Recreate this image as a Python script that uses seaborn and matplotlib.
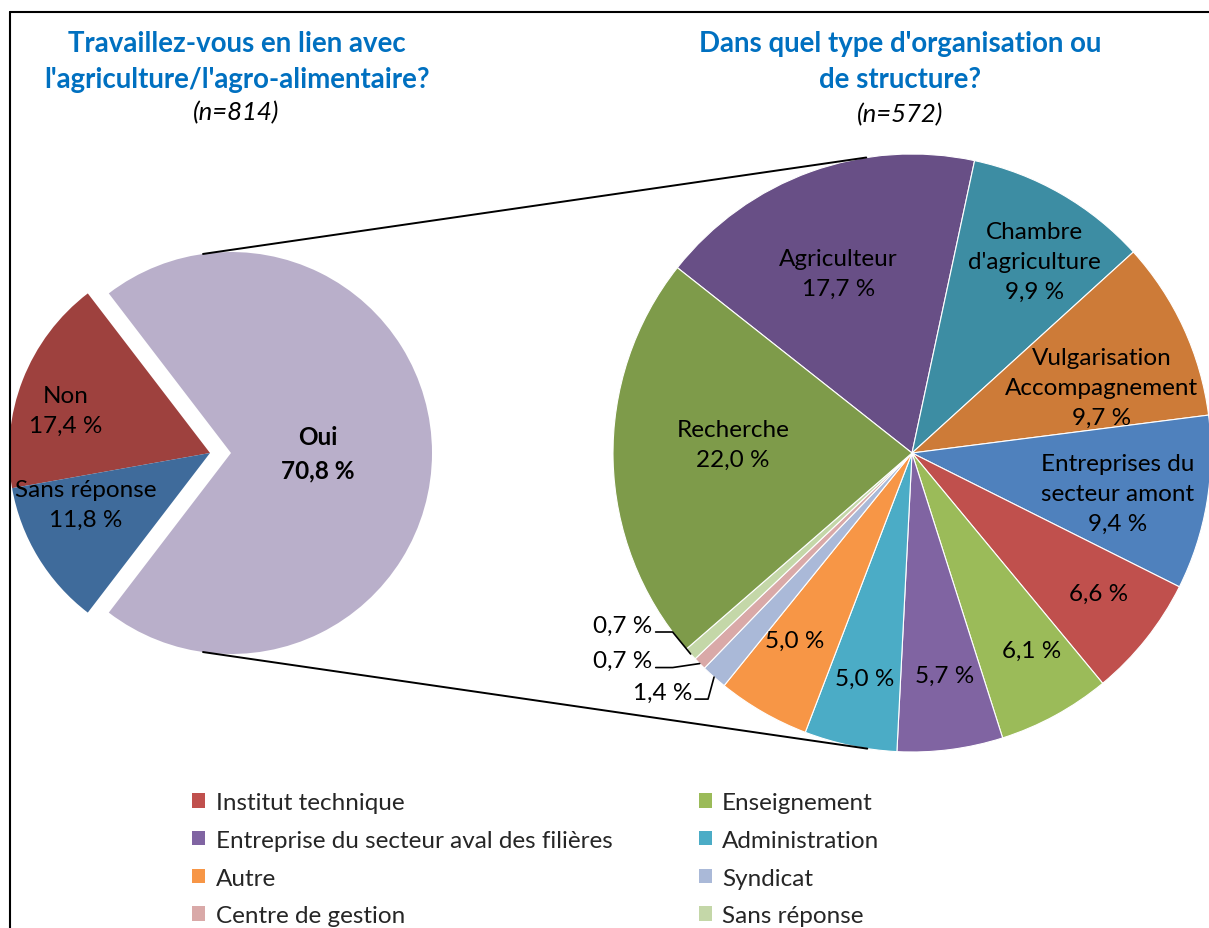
import numpy as np
import matplotlib
matplotlib.use("Agg")
import matplotlib.pyplot as plt
import seaborn as sns
from matplotlib.patches import Patch

# ---------------- data ----------------
q1_labels = ["Oui", "Non", "Sans réponse"]
q1_values = [70.8, 17.4, 11.8]

q2_labels = ["Agriculteur", "Chambre d'agriculture", "Vulgarisation Accompagnement",
             "Entreprises du secteur amont", "Institut technique", "Enseignement",
             "Entreprise du secteur aval des filières", "Administration", "Autre",
             "Syndicat", "Centre de gestion", "Sans réponse", "Recherche"]
q2_values = [17.7, 9.9, 9.7, 9.4, 6.6, 6.1, 5.7, 5.0, 5.0, 1.4, 0.7, 0.7, 22.0]
q2_slice_names = ["Agriculteur", "Chambre\nd'agriculture", "Vulgarisation\nAccompagnement",
                  "Entreprises du\nsecteur amont", "", "", "", "", "", "", "", "", "Recherche"]
legend_idx = [4, 6, 8, 10, 5, 7, 9, 11]   # column-first order giving row-wise layout

title1 = "Travaillez-vous en lien avec\nl'agriculture/l'agro-alimentaire?"
title2 = "Dans quel type d'organisation ou\nde structure?"
n1 = "(n=814)"
n2 = "(n=572)"

# ---------------- style ----------------
sns.set_theme(style="white")
FONT = ["Lato", "DejaVu Sans"]
plt.rcParams["font.family"] = FONT

q1_colors = ["#B9AFCA", "#9E413E", "#3F6B9B"]
q2_colors = ["#684F86", "#3D8DA3", "#CD7B38", "#4F81BD", "#C0504D", "#9BBB59",
             "#8064A2", "#4BACC6", "#F79646", "#AAB9D8", "#D9A9A8", "#C4D7A8", "#7E9B4A"]

W, H = 1209, 929
fig = plt.figure(figsize=(W / 100, H / 100), dpi=100)
ax = fig.add_axes([0, 0, 1, 1])

def fmt(v):
    return f"{v:.1f} %".replace(".", ",")

fs = 17.5
LS = 1.52

# ---------------- left pie ----------------
c1 = (231, H - 454)
R1 = 201
shift = 21
start1 = -q1_values[0] / 100 * 180
w1, _ = ax.pie(q1_values, colors=q1_colors, startangle=start1, counterclock=True,
               center=c1, radius=R1, wedgeprops=dict(linewidth=0))
for w in w1[1:]:
    w.set_center((c1[0] - shift, c1[1]))

lab1_frac = [0.43, 0.75, 0.67]
lab1_dang = [0, 5, -9]
for i, w in enumerate(w1):
    th = np.deg2rad((w.theta1 + w.theta2) / 2 + lab1_dang[i])
    cx, cy = w.center
    x = cx + lab1_frac[i] * R1 * np.cos(th)
    y = cy + lab1_frac[i] * R1 * np.sin(th)
    ax.text(x, y, f"{q1_labels[i]}\n{fmt(q1_values[i])}", ha="center", va="center",
            fontsize=fs, fontweight="bold" if i == 0 else "normal",
            linespacing=LS, color="black")

# ---------------- right pie ----------------
c2 = (912, H - 454)
R2 = 299
start2 = 141.7
w2, _ = ax.pie(q2_values, colors=q2_colors, startangle=start2, counterclock=False,
               center=c2, radius=R2,
               wedgeprops=dict(edgecolor="white", linewidth=0.8))

lab2_frac = [0.65, 0.76, 0.67, 0.70, 0.78, 0.77, 0.75, 0.77, 0.74, 0, 0, 0, 0.60]
lab2_dang = [2.4, -2.6, -5.7, -1.4, 1.6, 2.6, 1.0, 0.0, -2.2, 0, 0, 0, -4.0]
for i, w in enumerate(w2):
    if q2_values[i] < 2:
        continue
    th = np.deg2rad((w.theta1 + w.theta2) / 2 + lab2_dang[i])
    x = c2[0] + lab2_frac[i] * R2 * np.cos(th)
    y = c2[1] + lab2_frac[i] * R2 * np.sin(th)
    name = q2_slice_names[i]
    txt = f"{name}\n{fmt(q2_values[i])}" if name else fmt(q2_values[i])
    ax.text(x, y, txt, ha="center", va="center", fontsize=fs, linespacing=LS,
            color="black")

# small slices with elbow leader lines (offsets in pixels from slice edge)
small_leaders = {11: (-18, 22, 17), 10: (-27, -4, 17), 9: (-6, -22, 13)}
for i, (ox, oy, hl) in small_leaders.items():
    w = w2[i]
    th = np.deg2rad((w.theta1 + w.theta2) / 2)
    px = c2[0] + R2 * np.cos(th)
    py = c2[1] + R2 * np.sin(th)
    kx, ky = px + ox, py + oy
    sx = kx - hl
    ax.plot([px, kx, sx], [py, ky, ky], color="black", lw=1.2, zorder=4)
    ax.text(sx - 3, ky + 7, fmt(q2_values[i]), ha="right", va="center",
            fontsize=fs, color="black")

# ---------------- connector lines ----------------
for a in (98, -98):
    t = np.deg2rad(a)
    x1, y1 = c1[0] + R1 * np.cos(t), c1[1] + R1 * np.sin(t)
    t2 = np.deg2rad(a + (0.8 if a > 0 else -0.6))
    x2, y2 = c2[0] + R2 * np.cos(t2), c2[1] + R2 * np.sin(t2)
    ax.plot([x1, x2], [y1, y2], color="black", lw=1.4, zorder=3)

# ---------------- titles ----------------
ax.text(237, H - 62, title1, ha="center", va="center", fontsize=19.9,
        fontweight="bold", color="#0070C0", linespacing=1.45)
ax.text(236, H - 113, n1, ha="center", va="center", fontsize=18.5,
        style="italic", color="black")
ax.text(900, H - 62, title2, ha="center", va="center", fontsize=19.9,
        fontweight="bold", color="#0070C0", linespacing=1.45)
ax.text(900, H - 115, n2, ha="center", va="center", fontsize=18.5,
        style="italic", color="black")

# ---------------- border ----------------
ax.plot([10, 10], [H - 13, 0], color="black", lw=1.5)
ax.plot([10, W], [H - 13, H - 13], color="black", lw=1.5)

# ---------------- legend ----------------
handles = [Patch(facecolor=q2_colors[i], edgecolor="none") for i in legend_idx]
labels = [q2_labels[i] for i in legend_idx]
fig.legend(handles, labels, ncol=2, loc="upper left",
           bbox_to_anchor=(192 / W, 1 - 793 / H), frameon=False,
           fontsize=fs, handlelength=0.55, handleheight=0.55,
           handletextpad=0.42, labelspacing=0.69, columnspacing=3.55,
           borderaxespad=0, borderpad=0)

ax.set_xlim(0, W)
ax.set_ylim(0, H)
ax.set_aspect("equal")
ax.axis("off")

fig.savefig("out.png", dpi=100, facecolor="white")
